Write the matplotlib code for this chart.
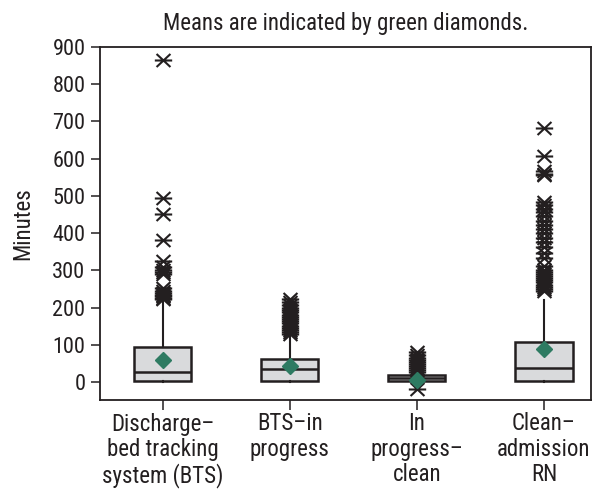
import matplotlib
matplotlib.use("Agg")
import matplotlib.pyplot as plt
from matplotlib import font_manager
from matplotlib.path import Path

# pick a condensed sans if one is installed
cond = None
for pref in ['Liberation Sans Narrow', 'Roboto Condensed', 'Open Sans Condensed', 'DejaVu Sans']:
    for f in font_manager.fontManager.ttflist:
        if f.name == pref and str(f.stretch) in ('condensed', 'semi-condensed', 'extra-condensed', '500', '400') \
                and f.weight in (400, 'normal', 'regular') and f.style == 'normal':
            if pref == 'DejaVu Sans' and str(f.stretch) not in ('condensed', 'semi-condensed'):
                continue
            if pref != 'DejaVu Sans' or 'Condensed' in f.fname:
                cond = f.fname
                break
    if cond:
        break

if cond:
    fp = lambda size: font_manager.FontProperties(fname=cond, size=size)
    big, small = 16.5, 16
else:
    plt.rcParams['font.family'] = ['Roboto', 'DejaVu Sans']
    fp = lambda size: font_manager.FontProperties(family=['Roboto', 'DejaVu Sans'], size=size)
    big, small = 15, 14

categories = ["Discharge\u2013\nbed tracking\nsystem (BTS)", "BTS\u2013in\nprogress",
              "In\nprogress\u2013\nclean", "Clean\u2013\nadmission\nRN"]
q1 = [3, 3, 2, 3]
medians = [28, 34, 10, 39]
q3 = [94, 62, 20, 109]
whislo = [0, 0, 0, 0]
whishi = [221, 125, 40, 221]
means = [60, 42, 7, 89]
fliers = [
    [865, 495, 452, 381, 325, 310, 300, 295, 290, 252, 245, 240, 235, 231, 227, 224],
    [224, 216, 208, 200, 194, 188, 181, 175, 170, 164, 158, 152, 146, 140, 134, 129],
    [80, 72, 66, 60, 54, 48, 43, 38, 33, 28, -18],
    [683, 608, 568, 560, 555, 485, 476, 466, 456, 446, 434, 422, 410, 400, 388, 376,
     362, 348, 334, 312, 302, 296, 290, 285, 280, 274, 268, 262, 256, 250, 246],
]
title = "Means are indicated by green diamonds."
ylabel = "Minutes"
yticks = [0, 100, 200, 300, 400, 500, 600, 700, 800, 900]

stats = []
for i in range(len(categories)):
    stats.append(dict(med=medians[i], q1=q1[i], q3=q3[i], whislo=whislo[i],
                      whishi=whishi[i], mean=means[i], fliers=fliers[i], label=categories[i]))

# asterisk-like flier marker: horizontal bar plus a flattened X
star = Path([(-1, 0), (1, 0), (-0.8, -0.75), (0.8, 0.75), (-0.8, 0.75), (0.8, -0.75)],
            [Path.MOVETO, Path.LINETO, Path.MOVETO, Path.LINETO, Path.MOVETO, Path.LINETO])

fig = plt.figure(figsize=(5.94, 4.93), dpi=100)
ax = fig.add_axes([100/594, (493-400)/493, (591-100)/594, (400-47)/493])

dark = '#231f20'
ax.bxp(stats, positions=[1, 2, 3, 4], widths=0.45, patch_artist=True,
       showmeans=True, showcaps=False,
       boxprops=dict(facecolor='#d9dadc', edgecolor=dark, linewidth=1.8),
       medianprops=dict(color=dark, linewidth=1.8),
       whiskerprops=dict(color=dark, linewidth=1.5),
       flierprops=dict(marker=star, markersize=12.5, markeredgecolor=dark,
                       markeredgewidth=1.5, markerfacecolor='none', linestyle='none'),
       meanprops=dict(marker='D', markersize=8.5, markerfacecolor='#2e7b62',
                      markeredgecolor='#2e7b62'))

ax.set_xlim(0.507, 4.37)
ax.set_ylim(-48, 900)
ax.set_yticks(yticks)
ax.set_yticklabels([str(v) for v in yticks], fontproperties=fp(small))
ax.set_xticks([1, 2, 3, 4])
ax.set_xticklabels(categories, fontproperties=fp(big), linespacing=1.12)
ax.tick_params(axis='y', length=6.5, width=1.1, color=dark, labelcolor=dark, pad=4)
ax.tick_params(axis='x', length=7, width=1.1, color=dark, labelcolor=dark, pad=2)
for s in ax.spines.values():
    s.set_linewidth(1.3)
    s.set_color(dark)
ax.set_ylabel(ylabel, fontproperties=fp(big), color=dark, labelpad=13)
ax.set_title(title, fontproperties=fp(big), color=dark, pad=12)

fig.savefig("out.png", dpi=100)
